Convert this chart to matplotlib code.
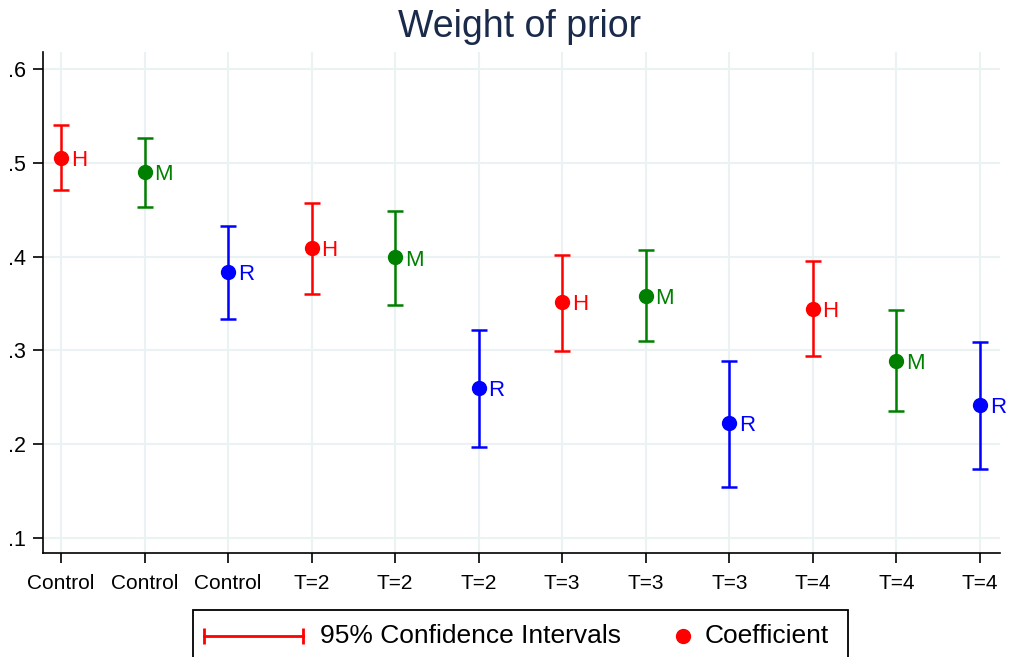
import matplotlib
matplotlib.use("Agg")
import matplotlib.pyplot as plt
from matplotlib.lines import Line2D
from matplotlib.patches import Rectangle

plt.rcParams['font.family'] = ['Liberation Sans', 'DejaVu Sans']

categories = ["Control", "Control", "Control", "T=2", "T=2", "T=2",
              "T=3", "T=3", "T=3", "T=4", "T=4", "T=4"]
groups = ["H", "M", "R"] * 4
coef = [0.505, 0.490, 0.384, 0.409, 0.399, 0.260, 0.352, 0.358, 0.223, 0.344, 0.289, 0.242]
ci_low = [0.471, 0.453, 0.333, 0.360, 0.348, 0.197, 0.299, 0.310, 0.154, 0.294, 0.235, 0.174]
ci_high = [0.540, 0.526, 0.433, 0.457, 0.449, 0.322, 0.402, 0.407, 0.289, 0.395, 0.343, 0.309]
yticks = [0.1, 0.2, 0.3, 0.4, 0.5, 0.6]
ytick_labels = [".1", ".2", ".3", ".4", ".5", ".6"]
legend_labels = ["95% Confidence Intervals", "Coefficient"]
colors = {"H": "#ff0000", "M": "#008000", "R": "#0000ff"}

W, H = 1009, 657
fig = plt.figure(figsize=(W / 100, H / 100), dpi=100)
ax = fig.add_axes([43 / W, 1 - 553 / H, (1000 - 43) / W, (553 - 52) / H])

xs = list(range(1, len(categories) + 1))
for x, g, c, lo, hi in zip(xs, groups, coef, ci_low, ci_high):
    col = colors[g]
    ax.errorbar([x], [c], yerr=[[c - lo], [hi - c]], fmt='none', ecolor=col,
                elinewidth=1.8, capsize=6, capthick=1.8, zorder=3)
    ax.plot([x], [c], 'o', color=col, markersize=10, zorder=4)
    ax.annotate(g, (x, c), xytext=(7, -2), textcoords='offset points',
                color=col, fontsize=16, va='center', ha='left')

ax.set_xlim(0.785, 12.24)
ax.set_ylim(0.084, 0.618)
ax.set_xticks(xs)
ax.set_xticklabels(categories, fontsize=15)
ax.set_yticks(yticks)
ax.set_yticklabels(ytick_labels, fontsize=15.5)
ax.tick_params(axis='both', length=7, width=1.2, color='black')
ax.tick_params(axis='x', pad=8)
ax.tick_params(axis='y', pad=5)
ax.grid(True, color='#eaf2f3', linewidth=1.5, zorder=0)
ax.set_axisbelow(True)
for s in ['top', 'right']:
    ax.spines[s].set_visible(False)
for s in ['left', 'bottom']:
    ax.spines[s].set_linewidth(1.2)

fig.text(519 / W, 1 - 27 / H, "Weight of prior", ha='center', va='center',
         fontsize=27, color='#1a2a4a')

# manual legend (figure pixel coords converted to fractions)
def fx(p):
    return p / W

def fy(p):
    return 1 - p / H

fig.add_artist(Rectangle((fx(193), fy(662)), fx(848) - fx(193), fy(610) - fy(662),
                         transform=fig.transFigure, fill=False, edgecolor='black',
                         linewidth=1.3, clip_on=False))
ly = fy(636)
fig.add_artist(Line2D([fx(204), fx(303)], [ly, ly], transform=fig.transFigure,
                      color='#ff0000', linewidth=2, marker='|', markersize=12,
                      markeredgewidth=2))
fig.text(fx(320), ly, legend_labels[0], ha='left', va='center', fontsize=19)
fig.add_artist(Line2D([fx(683)], [ly], transform=fig.transFigure, color='#ff0000',
                      marker='o', markersize=10, linestyle='none'))
fig.text(fx(705), ly, legend_labels[1], ha='left', va='center', fontsize=19)

fig.savefig("out.png", dpi=100)
